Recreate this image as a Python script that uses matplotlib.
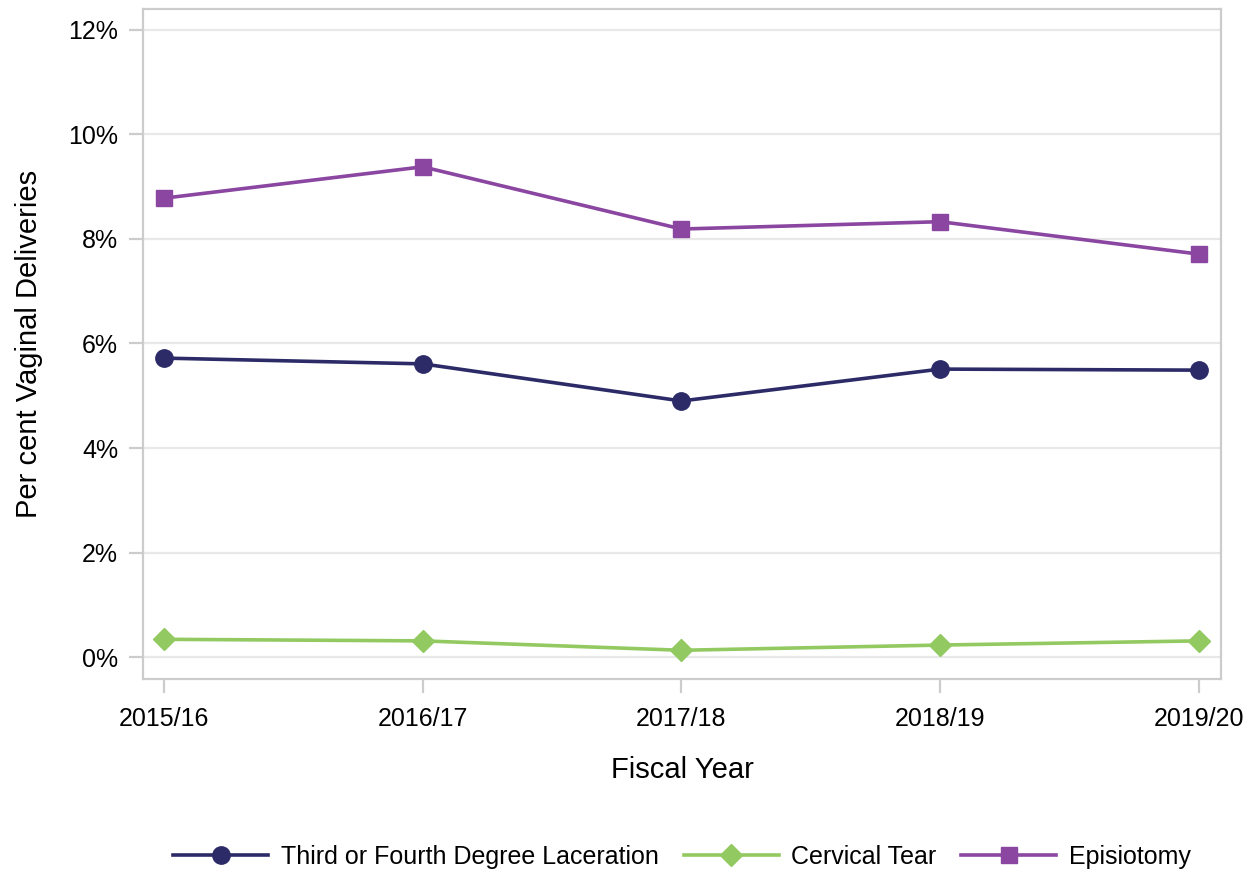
import matplotlib
matplotlib.use('Agg')
import matplotlib.pyplot as plt
from matplotlib.ticker import FuncFormatter

years = ['2015/16', '2016/17', '2017/18', '2018/19', '2019/20']
laceration = [5.72, 5.61, 4.90, 5.51, 5.49]
cervical = [0.34, 0.31, 0.13, 0.23, 0.31]
episiotomy = [8.78, 9.38, 8.19, 8.33, 7.71]

plt.rcParams['font.family'] = ['Liberation Sans', 'DejaVu Sans']

fig = plt.figure(figsize=(12.56, 8.71), dpi=100)
ax = fig.add_axes([0.1139, 0.2204, 0.8581, 0.7693])

x = list(range(len(years)))
ax.plot(x, laceration, color='#2c2b68', lw=2.6, marker='o', ms=12.5,
        label='Third or Fourth Degree Laceration', zorder=3)
ax.plot(x, cervical, color='#93c961', lw=2.6, marker='D', ms=11.5,
        label='Cervical Tear', zorder=3)
ax.plot(x, episiotomy, color='#8a46a0', lw=2.6, marker='s', ms=11,
        label='Episiotomy', zorder=3)

ax.set_xlim(-0.081, 4.085)
ax.set_ylim(-0.42, 12.40)
ax.set_xticks(x)
ax.set_xticklabels(years)
ax.set_yticks(range(0, 13, 2))
ax.yaxis.set_major_formatter(FuncFormatter(lambda v, p: '%d%%' % v))
ax.grid(axis='y', color='#e8e8e8', lw=1.6, zorder=0)
ax.set_axisbelow(True)

for s in ax.spines.values():
    s.set_color('#cccccc')
    s.set_linewidth(1.6)
ax.tick_params(colors='#cccccc', width=1.6, length=10, labelcolor='black',
               labelsize=18)
ax.tick_params(axis='x', pad=10)
ax.tick_params(axis='y', pad=8)

ax.set_xlabel('Fiscal Year', fontsize=21, labelpad=18)
ax.set_ylabel('Per cent Vaginal Deliveries', fontsize=21, labelpad=18)

ax.legend(loc='lower center', bbox_to_anchor=(0.5, -0.317), ncol=3,
          frameon=False, fontsize=18, handlelength=3.8, columnspacing=1.0,
          handletextpad=0.5)

fig.savefig('out.png', dpi=100)
